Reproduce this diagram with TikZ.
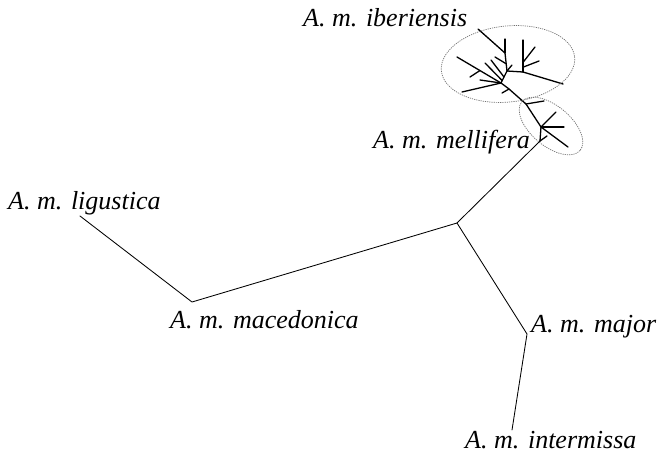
\documentclass[tikz,border=0pt]{standalone}
\usepackage{fontspec}
\setmainfont{Liberation Serif}
\usetikzlibrary{calc}
\begin{document}
\begin{tikzpicture}[x=1pt,y=-1pt,
  br/.style={line width=0.85pt, line cap=round},
  cl/.style={line width=1.3pt, line cap=round},
  lab/.style={font=\fontsize{26}{30}\selectfont\itshape, inner sep=0pt, anchor=base west},
  ring/.style={black!55, dash pattern=on 1.2pt off 1pt, line width=0.7pt}]
\useasboundingbox (0,0) rectangle (658,455);
% labels
\node[lab] (ib) at (303,27) {A. m. iberiensis};
\node[lab] (me) at (373,148) {A. m. mellifera};
\node[lab] (li) at (8,209) {A. m. ligustica};
\node[lab] (mc) at (170,328) {A. m. macedonica};
\node[lab] (mj) at (531,332) {A. m. major};
\node[lab] (in) at (465,448) {A. m. intermissa};
% main tree
\coordinate (tL) at (80,216);
\coordinate (nMac) at (192,302);
\coordinate (nC) at (457,223);
\coordinate (nMaj) at (527,334);
\coordinate (tInt) at (512,430);
\coordinate (M0) at (540,141);
\draw[br] (tL) -- (nMac) -- (nC) -- (nMaj) -- (tInt);
\draw[br] (nC) -- (M0);
% mellifera cluster
\coordinate (M1) at (541,127);
\coordinate (M2) at (526,104);
\coordinate (m1) at (556,112);
\coordinate (m2) at (564,127);
\coordinate (m3) at (568,147);
\coordinate (m4) at (547,136);
\coordinate (m5) at (544,101);
\draw[cl] (M0) -- (M1) -- (M2);
\draw[cl] (M1) -- (m1);
\draw[cl] (M1) -- (m2);
\draw[cl] (M1) -- (m3);
\draw[cl] (M0) -- (m4);
\draw[cl] (M2) -- (m5);
% iberiensis cluster
\coordinate (I0) at (509,89);
\coordinate (I1) at (501,83);
\coordinate (I2) at (507,71);
\coordinate (I3) at (523,72);
\coordinate (I4) at (505,53);
\coordinate (i1) at (462,92);
\coordinate (i2) at (457,57);
\coordinate (i3) at (502,93);
\coordinate (i4) at (478,29);
\coordinate (i5) at (505,39);
\coordinate (i6) at (523,40);
\coordinate (i7) at (563,84);
\coordinate (i8) at (535,47);
\coordinate (i9) at (539,61);
\draw[cl] (M2) -- (I0) -- (I1) -- (I2) -- (I3);
\draw[cl] (I0) -- (i3);
\draw[cl] (I1) -- (i1);
\draw[cl] (I1) -- (i2);
\draw[cl] (480,70.5) -- (470,77);
\draw[cl] (I1) -- (480,80);
\draw[cl] (485,63) -- ($(I1)!0.2!(I2)$);
\draw[cl] (491,60) -- ($(I1)!0.5!(I2)$);
\draw[cl] (I2) -- (I4) -- (i4);
\draw[cl] (I4) -- (i5);
\draw[cl] ($(I4)!0.6!(I2)$) -- (495,57);
\draw[cl] (I2) -- (512,65);
\draw[cl] (I3) -- (i6);
\draw[cl] (I3) -- (i7);
\draw[cl] ($(I3)!0.3!(i6)$) -- (i8);
\draw[cl] ($(I3)!0.15!(i6)$) -- (i9);
% ellipses
\draw[ring, rotate around={6:(508,64)}] (508,64) ellipse (67 and 38);
\draw[ring, rotate around={-40:(551,126)}] (551,126) ellipse (38 and 20);
\end{tikzpicture}
\end{document}
